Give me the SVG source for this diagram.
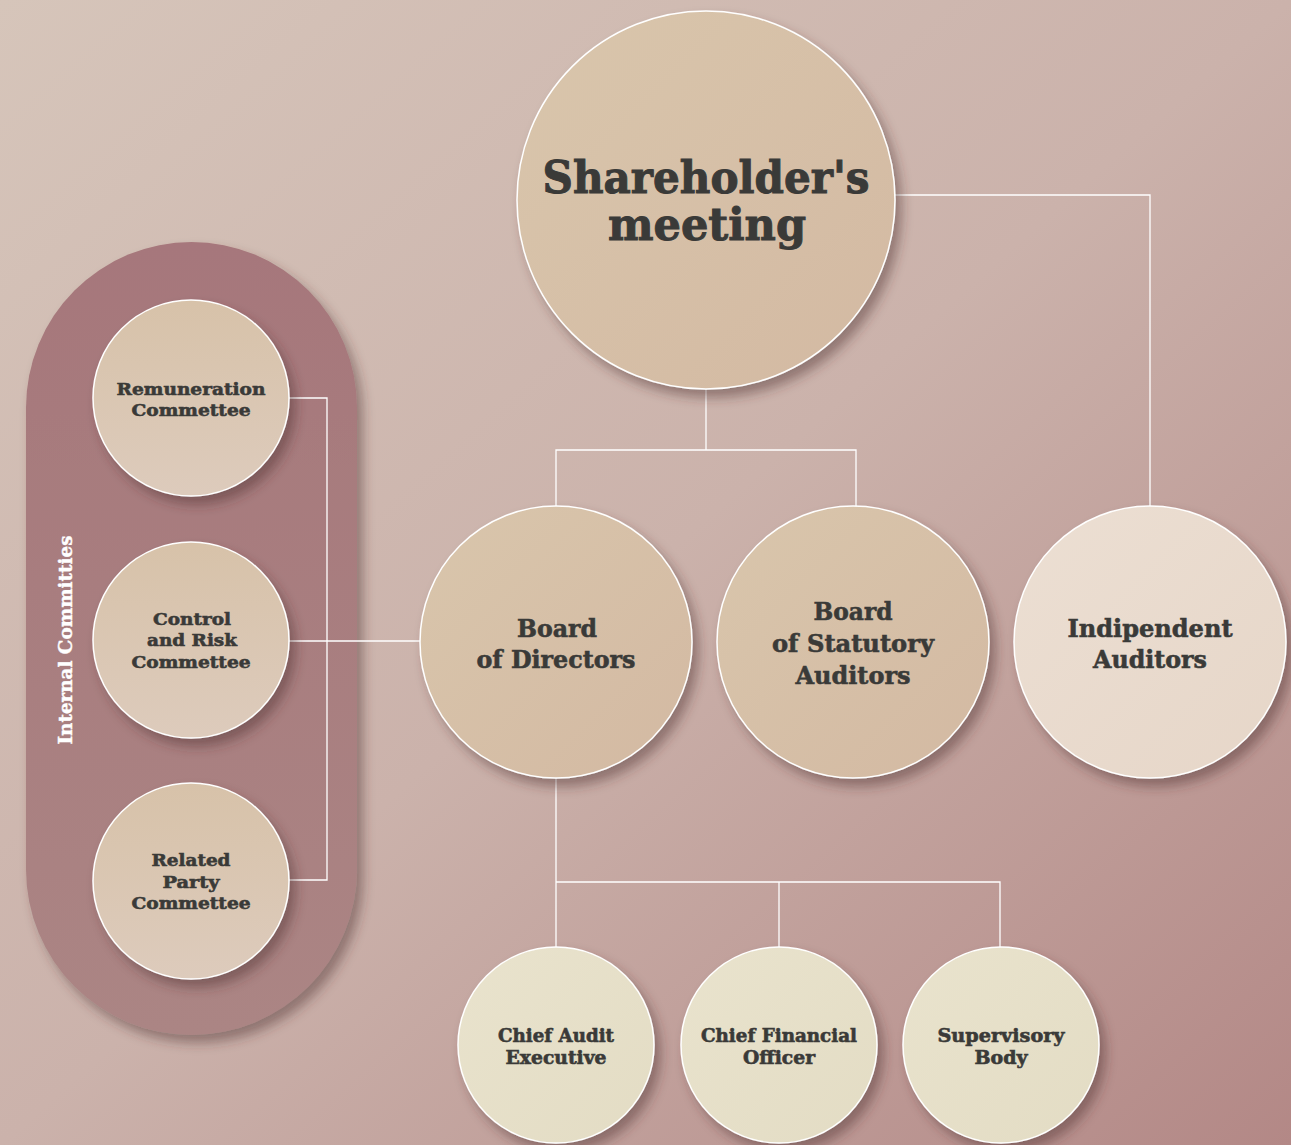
<svg xmlns="http://www.w3.org/2000/svg" width="1291" height="1145" viewBox="0 0 1291 1145">
<defs>
<linearGradient id="bg" x1="0" y1="0" x2="1" y2="1">
<stop offset="0" stop-color="#d6c5ba"/>
<stop offset="0.5" stop-color="#cbb2ab"/>
<stop offset="1" stop-color="#b38886"/>
</linearGradient>
<linearGradient id="beige" x1="0" y1="0" x2="1" y2="1">
<stop offset="0" stop-color="#d9c6ac"/>
<stop offset="1" stop-color="#d3b9a2"/>
</linearGradient>
<linearGradient id="comm" x1="0" y1="0" x2="0" y2="1">
<stop offset="0" stop-color="#d7c2a9"/>
<stop offset="1" stop-color="#ddcbbc"/>
</linearGradient>
<linearGradient id="light" x1="0" y1="0" x2="1" y2="1">
<stop offset="0" stop-color="#ecdfd3"/>
<stop offset="1" stop-color="#e6d6c8"/>
</linearGradient>
<linearGradient id="pale" x1="0" y1="0" x2="1" y2="1">
<stop offset="0" stop-color="#e9e3cd"/>
<stop offset="1" stop-color="#e3dcc4"/>
</linearGradient>
<linearGradient id="pill" x1="0" y1="0" x2="0" y2="1">
<stop offset="0" stop-color="#a6777b"/>
<stop offset="1" stop-color="#ab8584"/>
</linearGradient>
<filter id="sh" x="-20%" y="-20%" width="150%" height="150%">
<feDropShadow dx="6" dy="8" stdDeviation="6" flood-color="#4a2c2c" flood-opacity="0.45"/>
</filter>
</defs>
<style>
.node circle{stroke:#ffffff;stroke-width:1.5;filter:url(#sh)}
.t{font-family:"DejaVu Serif","Liberation Serif",serif;font-weight:bold;fill:#3a3a38;stroke:#3a3a38;stroke-width:0.6;text-anchor:middle}
.w{font-family:"DejaVu Serif","Liberation Serif",serif;font-weight:bold;fill:#ffffff;stroke:#ffffff;stroke-width:0.4;text-anchor:middle}
.conn{fill:none;stroke:#ffffff;stroke-width:1.3}
</style>
<rect width="1291" height="1145" fill="url(#bg)"/>

<g id="committees-panel">
<rect x="26" y="242" width="331" height="793" rx="165.5" ry="165.5" fill="url(#pill)" filter="url(#sh)"/>
<text class="w" x="0" y="0" transform="translate(72,640) rotate(-90)" font-size="19" textLength="209" lengthAdjust="spacingAndGlyphs">Internal Committies</text>
</g>

<g id="connectors">
<polyline class="conn" points="706,389 706,450"/>
<polyline class="conn" points="556,507 556,450 856,450 856,507"/>
<polyline class="conn" points="895,195 1150,195 1150,506"/>
<polyline class="conn" points="556,778 556,947"/>
<polyline class="conn" points="556,882 1000,882 1000,947"/>
<polyline class="conn" points="779,882 779,947"/>
<polyline class="conn" points="289,398 327,398 327,880 289,880"/>
<polyline class="conn" points="289,641 420,641"/>
</g>

<g id="shareholders" class="node">
<circle cx="706" cy="200" r="189" fill="url(#beige)"/>
<text class="t" x="706" y="193" font-size="44" textLength="327" lengthAdjust="spacingAndGlyphs" style="stroke-width:1">Shareholder's</text>
<text class="t" x="707" y="240" font-size="44" textLength="198" lengthAdjust="spacingAndGlyphs" style="stroke-width:1">meeting</text>
</g>

<g id="board-directors" class="node">
<circle cx="556" cy="642" r="136" fill="url(#beige)"/>
<text class="t" x="557" y="637" font-size="25" textLength="80" lengthAdjust="spacingAndGlyphs">Board</text>
<text class="t" x="556" y="668" font-size="25" textLength="159" lengthAdjust="spacingAndGlyphs">of Directors</text>
</g>

<g id="board-statutory" class="node">
<circle cx="853" cy="642" r="136" fill="url(#beige)"/>
<text class="t" x="853" y="620" font-size="25" textLength="79" lengthAdjust="spacingAndGlyphs">Board</text>
<text class="t" x="853" y="652" font-size="25" textLength="162" lengthAdjust="spacingAndGlyphs">of Statutory</text>
<text class="t" x="853" y="684" font-size="25" textLength="115" lengthAdjust="spacingAndGlyphs">Auditors</text>
</g>

<g id="independent-auditors" class="node">
<circle cx="1150" cy="642" r="136" fill="url(#light)"/>
<text class="t" x="1150" y="637" font-size="25" textLength="165" lengthAdjust="spacingAndGlyphs">Indipendent</text>
<text class="t" x="1150" y="668" font-size="25" textLength="114" lengthAdjust="spacingAndGlyphs">Auditors</text>
</g>

<g id="remuneration" class="node">
<circle cx="191" cy="398" r="98" fill="url(#comm)"/>
<text class="t" x="191" y="395" font-size="17" textLength="149" lengthAdjust="spacingAndGlyphs">Remuneration</text>
<text class="t" x="191" y="416" font-size="17" textLength="119" lengthAdjust="spacingAndGlyphs">Commettee</text>
</g>

<g id="control-risk" class="node">
<circle cx="191" cy="640" r="98" fill="url(#comm)"/>
<text class="t" x="192" y="625" font-size="17" textLength="78" lengthAdjust="spacingAndGlyphs">Control</text>
<text class="t" x="192" y="646" font-size="17" textLength="90" lengthAdjust="spacingAndGlyphs">and Risk</text>
<text class="t" x="191" y="668" font-size="17" textLength="119" lengthAdjust="spacingAndGlyphs">Commettee</text>
</g>

<g id="related-party" class="node">
<circle cx="191" cy="881" r="98" fill="url(#comm)"/>
<text class="t" x="191" y="866" font-size="17" textLength="79" lengthAdjust="spacingAndGlyphs">Related</text>
<text class="t" x="191" y="888" font-size="17" textLength="57" lengthAdjust="spacingAndGlyphs">Party</text>
<text class="t" x="191" y="909" font-size="17" textLength="119" lengthAdjust="spacingAndGlyphs">Commettee</text>
</g>

<g id="chief-audit" class="node">
<circle cx="556" cy="1045" r="98" fill="url(#pale)"/>
<text class="t" x="556" y="1042" font-size="18" textLength="116" lengthAdjust="spacingAndGlyphs">Chief Audit</text>
<text class="t" x="556" y="1064" font-size="18" textLength="101" lengthAdjust="spacingAndGlyphs">Executive</text>
</g>

<g id="cfo" class="node">
<circle cx="779" cy="1045" r="98" fill="url(#pale)"/>
<text class="t" x="779" y="1042" font-size="18" textLength="156" lengthAdjust="spacingAndGlyphs">Chief Financial</text>
<text class="t" x="779" y="1064" font-size="18" textLength="72" lengthAdjust="spacingAndGlyphs">Officer</text>
</g>

<g id="supervisory" class="node">
<circle cx="1001" cy="1045" r="98" fill="url(#pale)"/>
<text class="t" x="1001" y="1042" font-size="18" textLength="127" lengthAdjust="spacingAndGlyphs">Supervisory</text>
<text class="t" x="1001" y="1064" font-size="18" textLength="53" lengthAdjust="spacingAndGlyphs">Body</text>
</g>
</svg>
